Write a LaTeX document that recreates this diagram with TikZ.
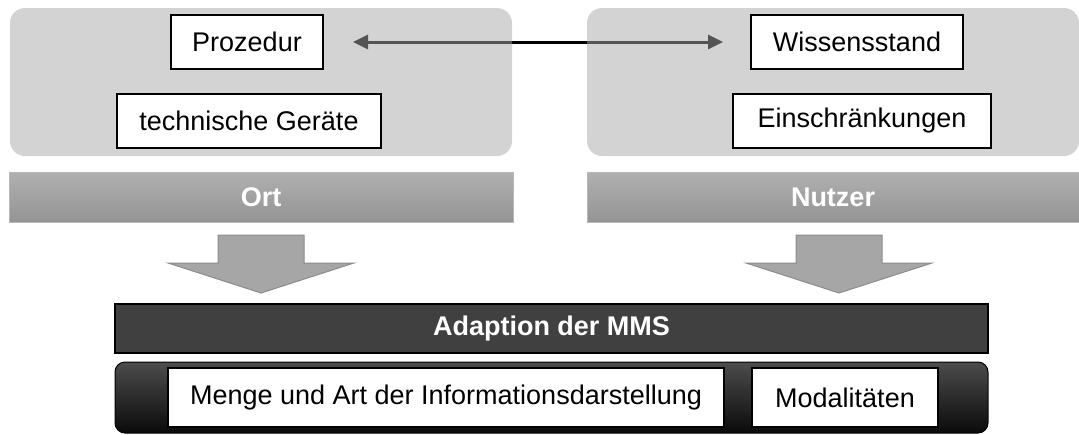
\documentclass[tikz,border=0pt]{standalone}
\usepackage{fontspec}
\setmainfont{Liberation Sans}
\usetikzlibrary{arrows.meta}
\pgfdeclarelayer{back}
\pgfdeclarelayer{mid}
\pgfsetlayers{back,mid,main}
\definecolor{panelgray}{gray}{0.66}
\definecolor{bartop}{gray}{0.69}
\definecolor{barbottom}{gray}{0.58}
\definecolor{blockgray}{gray}{0.65}
\definecolor{blockedge}{gray}{0.55}
\definecolor{mmsgray}{gray}{0.25}
\definecolor{basetop}{gray}{0.30}
\definecolor{basebottom}{gray}{0.04}
\newcommand{\txt}{\fontsize{27}{32}\selectfont}
\begin{document}
\begin{tikzpicture}[x=1pt,y=-1pt,
		every node/.style={font=\txt},
		item/.style={draw=black,line width=2pt,fill=white,inner sep=0pt,minimum height=54pt},
		panel/.style={fill=panelgray,fill opacity=0.5,rounded corners=15pt},
		bar/.style={draw=black!28,line width=0.8pt,top color=bartop,bottom color=barbottom,
			text=white,font=\txt\bfseries,minimum height=50pt,inner sep=0pt},
		link/.style={line width=3pt,{Triangle[length=15pt,width=14pt]}-{Triangle[length=15pt,width=14pt]}},
		blockarrow/.style={fill=blockgray,draw=blockedge,line width=1pt}]
		
		\useasboundingbox (0,0) rectangle (1079,434);
		
		% Ort / Nutzer
		\node[item,minimum width=152pt] (proz) at (247,42) {Prozedur};
		\node[item,minimum width=264pt] (geraete) at (249,121) {technische Geräte};
		\node[item,minimum width=212pt] (wissen) at (857,42) {Wissensstand};
		\node[item,minimum width=258pt] (einschr) at (862,121) {Einschränkungen};
		
		\begin{pgfonlayer}{back}
			\draw[link,shorten <=29pt,shorten >=27pt] (proz.east) -- (wissen.west);
		\end{pgfonlayer}
		\begin{pgfonlayer}{mid}
			\fill[panel] (10,8) rectangle (512,156);
			\fill[panel] (587,8) rectangle (1079,156);
		\end{pgfonlayer}
		
		\node[bar,minimum width=504pt] (ort) at (261,197) {Ort};
		\node[bar,minimum width=492pt] (nutzer) at (833,197) {Nutzer};
		
		\foreach \cx in {261,839}
			\draw[blockarrow] (\cx-43,235) -- (\cx+43,235) -- (\cx+43,263) -- (\cx+93,263)
				-- (\cx,293) -- (\cx-93,263) -- (\cx-43,263) -- cycle;
		
		% Adaption
		\node[draw=black,line width=1.5pt,fill=mmsgray,text=white,font=\txt\bfseries,
			minimum width=873pt,minimum height=49pt,inner sep=0pt] (mms) at (551.5,328.5) {Adaption der MMS};
		\draw[draw=black,line width=1pt,top color=basetop,bottom color=basebottom,rounded corners=10pt]
			(115,362) rectangle (988,433);
		\node[item,minimum width=556pt,minimum height=59pt] (menge) at (446,397.5) {Menge und Art der Informationsdarstellung};
		\node[item,minimum width=186pt,minimum height=59pt] (modal) at (845,397.5) {Modalitäten};
		
	\end{tikzpicture}
\end{document}
